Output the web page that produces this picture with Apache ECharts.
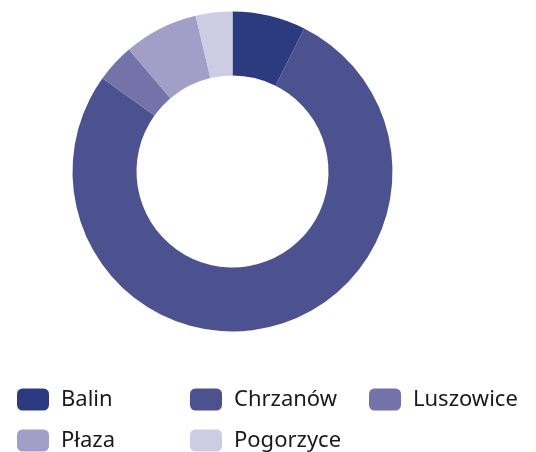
<!DOCTYPE html>
<html>
<head>
<meta charset="utf-8">
<script src="https://cdn.jsdelivr.net/npm/echarts@6/dist/echarts.min.js"></script>
<style>
html,body{margin:0;padding:0;background:#fff;}
#chart{width:536px;height:452px;}
</style>
</head>
<body>
<div id="chart"></div>
<script>
const categories = ['Balin', 'Chrzanów', 'Luszowice', 'Płaza', 'Pogorzyce'];
const values = [7.4, 77.5, 3.9, 7.5, 3.7];
const colors = ['#2c3a7f', '#4c528f', '#7473a9', '#a19fc8', '#cccde3'];

const legendPos = [
  { left: 17, top: 387 },
  { left: 190, top: 387 },
  { left: 369, top: 387 },
  { left: 17, top: 428 },
  { left: 190, top: 428 }
];

const chart = echarts.init(document.getElementById('chart'), null, { renderer: 'canvas' });

const legends = categories.map((name, i) => ({
  data: [name],
  left: legendPos[i].left,
  top: legendPos[i].top,
  padding: 0,
  itemWidth: 32,
  itemHeight: 22,
  icon: 'roundRect',
  selectedMode: false,
  textStyle: {
    fontFamily: 'Noto Sans',
    fontSize: 22,
    color: '#1a1a1a',
    padding: [3, 0, 0, 7],
    lineHeight: 22
  }
}));

chart.setOption({
  animation: false,
  color: colors,
  legend: legends,
  series: [{
    type: 'pie',
    center: [232.5, 171.5],
    radius: [96, 160],
    startAngle: 90,
    clockwise: true,
    label: { show: false },
    labelLine: { show: false },
    emphasis: { disabled: true },
    itemStyle: { borderWidth: 0 },
    data: categories.map((name, i) => ({ name, value: values[i] }))
  }]
});
</script>
</body>
</html>
